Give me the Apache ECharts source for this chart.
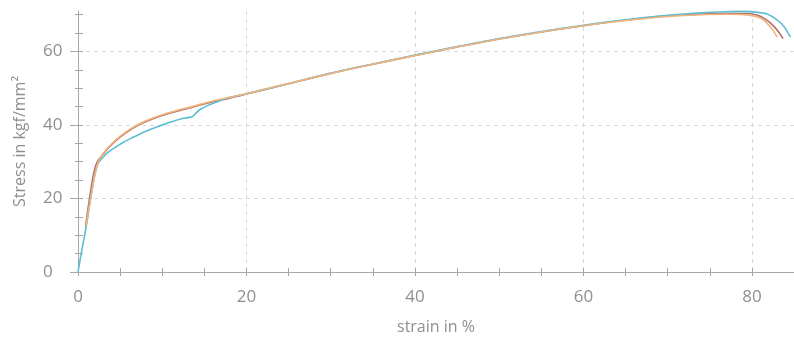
<!DOCTYPE html>
<html>
<head>
<meta charset="utf-8">
<script src="https://cdn.jsdelivr.net/npm/echarts@6/dist/echarts.min.js"></script>
<style>
  html, body { margin: 0; padding: 0; background: #fff; }
  #chart { width: 794px; height: 340px; }
</style>
</head>
<body>
<div id="chart"></div>
<script>
// Tensile test: engineering stress vs strain for three specimens

// Specimen A (cyan)
const strainA = [0, 0.5, 1.0, 1.5, 2.0, 2.4, 3.0, 3.6, 4.5, 5.4, 6.4, 7.3, 8.4, 9.5, 10.5, 11.3, 12.2, 13.0, 13.6, 14.0, 14.5, 15.5, 16.4, 17.2, 18.0, 20, 25, 30, 35, 40, 45, 50, 55, 60, 65, 70, 74, 77, 79, 80.5, 81.8, 82.6, 83.3, 83.9, 84.3, 84.6];
const stressA = [0, 6.5, 12.7, 20.0, 26.5, 29.6, 31.3, 32.6, 34.0, 35.3, 36.5, 37.5, 38.6, 39.6, 40.4, 41.0, 41.6, 42.0, 42.3, 43.2, 44.2, 45.4, 46.2, 46.9, 47.5, 48.5, 51.3, 54.1, 56.6, 59.0, 61.3, 63.5, 65.4, 67.1, 68.6, 69.8, 70.5, 70.8, 70.9, 70.7, 70.2, 69.2, 68.0, 66.5, 65.0, 63.9];

// Specimen B (orange)
const strainB = [0.95, 1.5, 2.0, 2.4, 3.0, 4.0, 5.0, 6.5, 8.0, 10, 12, 14, 16, 18, 20, 25, 30, 35, 40, 45, 50, 55, 60, 65, 70, 74, 77, 79, 80.3, 81.2, 82.1, 82.6, 83.0];
const stressB = [12.5, 20.0, 26.5, 29.9, 32.3, 34.9, 36.9, 39.3, 41.1, 42.8, 44.1, 45.3, 46.5, 47.5, 48.5, 51.3, 54.0, 56.5, 58.9, 61.2, 63.4, 65.3, 67.0, 68.4, 69.5, 70.0, 70.1, 70.0, 69.6, 68.9, 66.9, 65.4, 63.9];

// Specimen C (brown)
const strainC = [0.9, 1.4, 1.9, 2.3, 3.0, 4.0, 5.0, 6.5, 8.0, 10, 12, 14, 16, 18, 20, 25, 30, 35, 40, 45, 50, 55, 60, 65, 70, 74, 77, 79, 80.6, 81.6, 82.5, 83.2, 83.7];
const stressC = [12.5, 20.5, 27.2, 30.0, 32.1, 34.7, 36.7, 39.1, 40.9, 42.6, 43.9, 45.1, 46.3, 47.3, 48.4, 51.2, 54.0, 56.5, 58.9, 61.2, 63.4, 65.3, 67.0, 68.5, 69.7, 70.2, 70.3, 70.3, 69.9, 68.8, 67.1, 65.2, 63.5];

// Axis ticks and labels
const xLabels = [0, 20, 40, 60, 80];
const xTicks = [0, 5, 10, 15, 20, 25, 30, 35, 40, 45, 50, 55, 60, 65, 70, 75, 80];
const yLabels = [0, 20, 40, 60];
const yTicksMajor = [0, 20, 40, 60];
const yTicksMinor = [5, 10, 15, 25, 30, 35, 45, 50, 55, 65, 70];
const yTicksAll = [0, 5, 10, 15, 20, 25, 30, 35, 40, 45, 50, 55, 60, 65, 70];

const zip = (xs, ys) => xs.map((x, i) => [x, ys[i]]);

const FONT = '"Open Sans", "Noto Sans", sans-serif';
const TEXT = '#8f8f8f';
const AXIS = '#a6a6a6';
const GRID = '#d9d9d9';
const X_MAX = 85;
const Y_MAX = 71;

const tickAxisX = (inside, len) => ({
  type: 'value', min: 0, max: X_MAX, position: 'bottom', gridIndex: 0,
  axisLine: { show: false },
  axisLabel: { show: false },
  splitLine: { show: false },
  axisTick: { show: true, inside: inside, length: len, customValues: xTicks,
    lineStyle: { color: AXIS, width: 1 } }
});
const tickAxisY = (inside, len, values) => ({
  type: 'value', min: 0, max: Y_MAX, position: 'left', gridIndex: 0,
  axisLine: { show: false },
  axisLabel: { show: false },
  splitLine: { show: false },
  axisTick: { show: true, inside: inside, length: len, customValues: values,
    lineStyle: { color: AXIS, width: 1 } }
});

const lineSeries = (name, xs, ys, color) => ({
  name: name, type: 'line', xAxisIndex: 0, yAxisIndex: 0,
  data: zip(xs, ys), showSymbol: false, smooth: 0.3, clip: false,
  lineStyle: { color: color, width: 1.6 }
});

const chart = echarts.init(document.getElementById('chart'), null, { renderer: 'canvas' });
chart.setOption({
  animation: false,
  backgroundColor: '#ffffff',
  grid: { left: 78, right: 0, top: 11, bottom: 68, containLabel: false },
  xAxis: [
    {
      type: 'value', min: 0, max: X_MAX, interval: 20, position: 'bottom',
      name: 'strain in %', nameLocation: 'middle', nameGap: 47,
      nameTextStyle: { color: TEXT, fontSize: 16, fontFamily: FONT },
      axisLine: { show: true, lineStyle: { color: AXIS, width: 1 } },
      axisTick: { show: false },
      axisLabel: { color: TEXT, fontSize: 17, fontFamily: FONT, margin: 17,
        customValues: xLabels },
      splitLine: { show: true, showMinLine: false, showMaxLine: false,
        lineStyle: { color: GRID, type: [4, 4], width: 1 } }
    },
    tickAxisX(false, 4),
    tickAxisX(true, 4)
  ],
  yAxis: [
    {
      type: 'value', min: 0, max: Y_MAX, interval: 20, position: 'left',
      name: 'Stress in kgf/mm²', nameLocation: 'middle', nameGap: 50,
      nameTextStyle: { color: TEXT, fontSize: 16, fontFamily: FONT },
      axisLine: { show: true, lineStyle: { color: AXIS, width: 1 } },
      axisTick: { show: false },
      axisLabel: { color: TEXT, fontSize: 17, fontFamily: FONT, margin: 35, align: 'left',
        customValues: yLabels },
      splitLine: { show: true, showMinLine: false, showMaxLine: false,
        lineStyle: { color: GRID, type: [4, 4], width: 1 } }
    },
    tickAxisY(false, 8, yTicksMajor),
    tickAxisY(false, 3, yTicksMinor),
    tickAxisY(true, 5, yTicksAll)
  ],
  series: [
    lineSeries('C', strainC, stressC, '#b06f6c'),
    lineSeries('A', strainA, stressA, '#5cbdd2'),
    lineSeries('B', strainB, stressB, '#f1b47c')
  ]
});
</script>
</body>
</html>
